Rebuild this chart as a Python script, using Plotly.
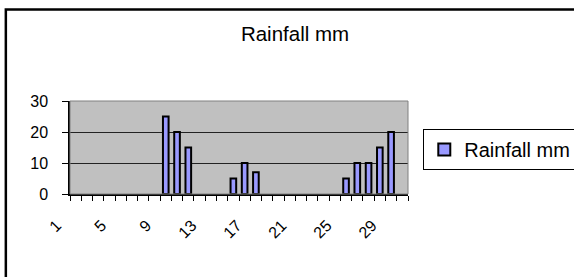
import plotly.graph_objects as go

days = list(range(1, 31))
rainfall_mm = [0, 0, 0, 0, 0, 0, 0, 0, 25, 20,
               15, 0, 0, 0, 5, 10, 7, 0, 0, 0,
               0, 0, 0, 0, 5, 10, 10, 15, 20, 0]
tick_labels = ["1", "5", "9", "13", "17", "21", "25", "29"]
tick_days = [1, 5, 9, 13, 17, 21, 25, 29]
y_ticks = [0, 10, 20, 30]

W, H = 574, 277
L, R_, T, B = 69.5, 407.7, 100.7, 194.3
pw, ph = R_ - L, B - T

def px2paper_x(px):
    return (px - L) / pw

def px2paper_y(py):
    return (B - py) / ph

FONT = "Arial, Liberation Sans, sans-serif"

# zero-rain days draw no bar
bar_values = [v if v else None for v in rainfall_mm]

fig = go.Figure()
fig.add_trace(go.Bar(
    x=days, y=bar_values, name="Rainfall mm",
    marker=dict(color="#9999FF", line=dict(color="black", width=2)),
))

fig.update_layout(
    width=W, height=H,
    margin=dict(l=L, r=W - R_, t=T, b=H - B, autoexpand=False),
    paper_bgcolor="white",
    plot_bgcolor="#C0C0C0",
    bargap=0.5,
    font=dict(family=FONT, color="black"),
    title=dict(text="Rainfall mm", x=295 / W, xref="container", xanchor="center",
               y=1 - 34 / H, yref="container", yanchor="middle",
               font=dict(size=20.5, family=FONT, color="black")),
    showlegend=True,
    legend=dict(x=px2paper_x(423), y=px2paper_y(129), xanchor="left", yanchor="top",
                bgcolor="white", bordercolor="black", borderwidth=1,
                font=dict(size=20, family=FONT, color="black")),
    xaxis=dict(
        range=[0.5, 30.5], tickmode="array", tickvals=tick_days, ticktext=tick_labels,
        tickangle=-45, ticks="", ticklabelstandoff=14, ticklabelshift=-19,
        showline=True, linecolor="black", linewidth=1.5, showgrid=False, zeroline=False,
        tickfont=dict(size=16, family=FONT, color="black"),
        minor=dict(tickmode="array", tickvals=[d + 0.5 for d in [0] + days],
                   ticks="outside", ticklen=5, tickcolor="black", tickwidth=1, showgrid=False),
        fixedrange=True,
    ),
    yaxis=dict(
        range=[0, 30], tickmode="array", tickvals=y_ticks,
        ticks="outside", ticklen=6, tickcolor="black", tickwidth=1, ticklabelstandoff=11,
        showline=True, linecolor="black", linewidth=1.5,
        showgrid=True, gridcolor="#222222", gridwidth=1, zeroline=False,
        tickfont=dict(size=16, family=FONT, color="black"),
        fixedrange=True,
    ),
    shapes=[
        dict(type="rect", xref="paper", yref="paper", x0=0, x1=1, y0=0, y1=1,
             line=dict(color="#808080", width=1), fillcolor="rgba(0,0,0,0)", layer="above"),
        dict(type="rect", xref="paper", yref="paper",
             x0=px2paper_x(5.3), x1=px2paper_x(590), y0=px2paper_y(290), y1=px2paper_y(8.7),
             line=dict(color="black", width=2.5), fillcolor="rgba(0,0,0,0)", layer="above"),
    ],
)

fig.write_html("out.html", config={"displayModeBar": False},
               post_script="document.body.style.margin='0px';")
